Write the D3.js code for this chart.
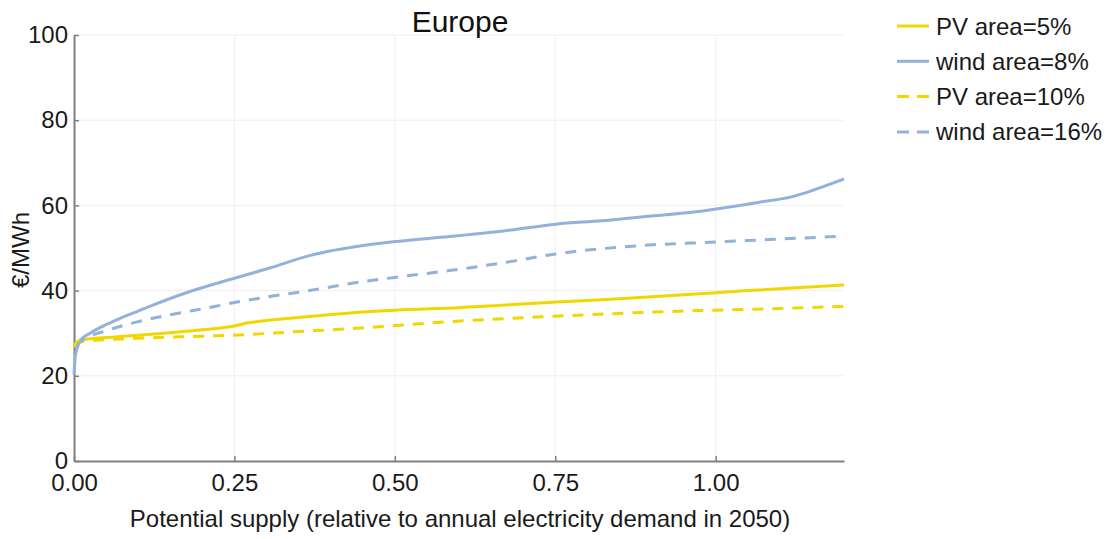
<!DOCTYPE html>
<html>
<head>
<meta charset="utf-8">
<script src="https://cdn.jsdelivr.net/npm/d3@7"></script>
<style>
  html, body { margin: 0; padding: 0; background: #fff; }
  svg { display: block; font-family: "Liberation Sans", Arial, sans-serif; }
</style>
</head>
<body>
<svg id="chart" width="1114" height="539"></svg>
<script>
// Supply cost curves for Europe (€/MWh vs. potential supply share)
const seriesNames = ["PV area=5%", "wind area=8%", "PV area=10%", "wind area=16%"];

const pv5X = [0, 0.009, 0.072, 0.149, 0.2, 0.25, 0.27, 0.3, 0.367, 0.445, 0.5, 0.6, 0.751, 0.85, 0.969, 1.05, 1.2];
const pv5Y = [26.8, 28.4, 29.2, 30.1, 30.8, 31.7, 32.4, 33.0, 33.9, 34.9, 35.4, 36.0, 37.3, 38.1, 39.2, 40.0, 41.3];

const wind8X = [0, 0.002, 0.006, 0.012, 0.025, 0.05, 0.072, 0.1, 0.123, 0.175, 0.25, 0.305, 0.367, 0.393, 0.456, 0.507, 0.585, 0.68, 0.751, 0.823, 0.9, 0.969, 1.016, 1.07, 1.118, 1.149, 1.175, 1.2];
const wind8Y = [20.3, 24.5, 27.0, 28.6, 30.0, 32.0, 33.5, 35.2, 36.6, 39.5, 42.9, 45.3, 48.2, 49.1, 50.7, 51.6, 52.7, 54.2, 55.6, 56.4, 57.5, 58.5, 59.5, 60.8, 62.0, 63.4, 64.8, 66.2];

const pv10X = [0, 0.009, 0.097, 0.2, 0.258, 0.351, 0.445, 0.5, 0.585, 0.751, 0.969, 1.1, 1.2];
const pv10Y = [27.3, 28.0, 28.8, 29.3, 29.6, 30.4, 31.2, 31.8, 32.7, 34.0, 35.3, 35.8, 36.3];

const wind16X = [0.004, 0.01, 0.02, 0.046, 0.097, 0.149, 0.217, 0.25, 0.305, 0.367, 0.445, 0.5, 0.585, 0.68, 0.751, 0.876, 1.0, 1.1, 1.2];
const wind16Y = [27.0, 28.0, 29.0, 30.4, 32.6, 34.3, 36.2, 37.2, 38.6, 40.0, 42.0, 43.1, 44.7, 46.8, 48.6, 50.5, 51.4, 52.1, 52.8];

const xTicks = [0, 0.25, 0.5, 0.75, 1.0];
const yTicks = [0, 20, 40, 60, 80, 100];

const colors = ["#f2d600", "#92b1db", "#f2d600", "#92b1db"];
const dashes = [null, null, "11,9", "11,9"];
const xs = [pv5X, wind8X, pv10X, wind16X];
const ys = [pv5Y, wind8Y, pv10Y, wind16Y];

const svg = d3.select("#chart");
const m = { left: 74, right: 844, top: 35, bottom: 461 };

const x = d3.scaleLinear().domain([0, 1.2]).range([m.left, m.right]);
const y = d3.scaleLinear().domain([0, 100]).range([m.bottom, m.top]);

// light grid
const grid = svg.append("g").attr("stroke", "#efefef").attr("stroke-width", 1);
grid.selectAll("line.gx").data(xTicks.slice(1)).join("line")
  .attr("x1", d => x(d)).attr("x2", d => x(d))
  .attr("y1", m.top).attr("y2", m.bottom);
grid.selectAll("line.gy").data(yTicks.slice(1)).join("line")
  .attr("x1", m.left).attr("x2", m.right)
  .attr("y1", d => y(d)).attr("y2", d => y(d));

// axes
const xAxis = d3.axisBottom(x).tickValues(xTicks).tickFormat(d3.format(".2f"))
  .tickSize(-5).tickSizeOuter(0).tickPadding(13);
const yAxis = d3.axisLeft(y).tickValues(yTicks).tickFormat(d3.format("d"))
  .tickSize(-5).tickSizeOuter(0).tickPadding(6);

function styleAxis(g) {
  g.select(".domain").attr("stroke", "#808080").attr("stroke-width", 2);
  g.selectAll(".tick line").attr("stroke", "#808080").attr("stroke-width", 1.5);
  g.selectAll(".tick text").attr("fill", "#1a1a1a").attr("font-size", 24)
    .attr("font-family", "Liberation Sans, Arial, sans-serif");
}
svg.append("g").attr("transform", `translate(0,${m.bottom})`).call(xAxis).call(styleAxis);
svg.append("g").attr("transform", `translate(${m.left},0)`).call(yAxis).call(styleAxis);

// curves
const line = d3.line().x(d => x(d[0])).y(d => y(d[1])).curve(d3.curveMonotoneX);
const plot = svg.append("g");
xs.forEach((xv, i) => {
  const pts = xv.map((v, j) => [v, ys[i][j]]);
  plot.append("path")
    .attr("d", line(pts))
    .attr("fill", "none")
    .attr("stroke", colors[i])
    .attr("stroke-width", 3)
    .attr("stroke-dasharray", dashes[i])
    .attr("stroke-linejoin", "round");
});

// titles
svg.append("text").attr("x", 460).attr("y", 32).attr("text-anchor", "middle")
  .attr("font-size", 30).attr("fill", "#111").text("Europe");
svg.append("text").attr("x", 460).attr("y", 527).attr("text-anchor", "middle")
  .attr("font-size", 24).attr("fill", "#1a1a1a")
  .text("Potential supply (relative to annual electricity demand in 2050)");
svg.append("text").attr("transform", "translate(29,250) rotate(-90)")
  .attr("text-anchor", "middle").attr("font-size", 24).attr("fill", "#1a1a1a").text("€/MWh");

// legend
const legend = svg.append("g");
seriesNames.forEach((name, i) => {
  const ly = 26 + i * 35.3;
  legend.append("line").attr("x1", 897).attr("x2", 929).attr("y1", ly).attr("y2", ly)
    .attr("stroke", colors[i]).attr("stroke-width", 3)
    .attr("stroke-dasharray", dashes[i] ? "12,8" : null);
  legend.append("text").attr("x", 936).attr("y", ly + 8.5)
    .attr("font-size", 24).attr("fill", "#1a1a1a").text(name);
});
</script>
</body>
</html>
